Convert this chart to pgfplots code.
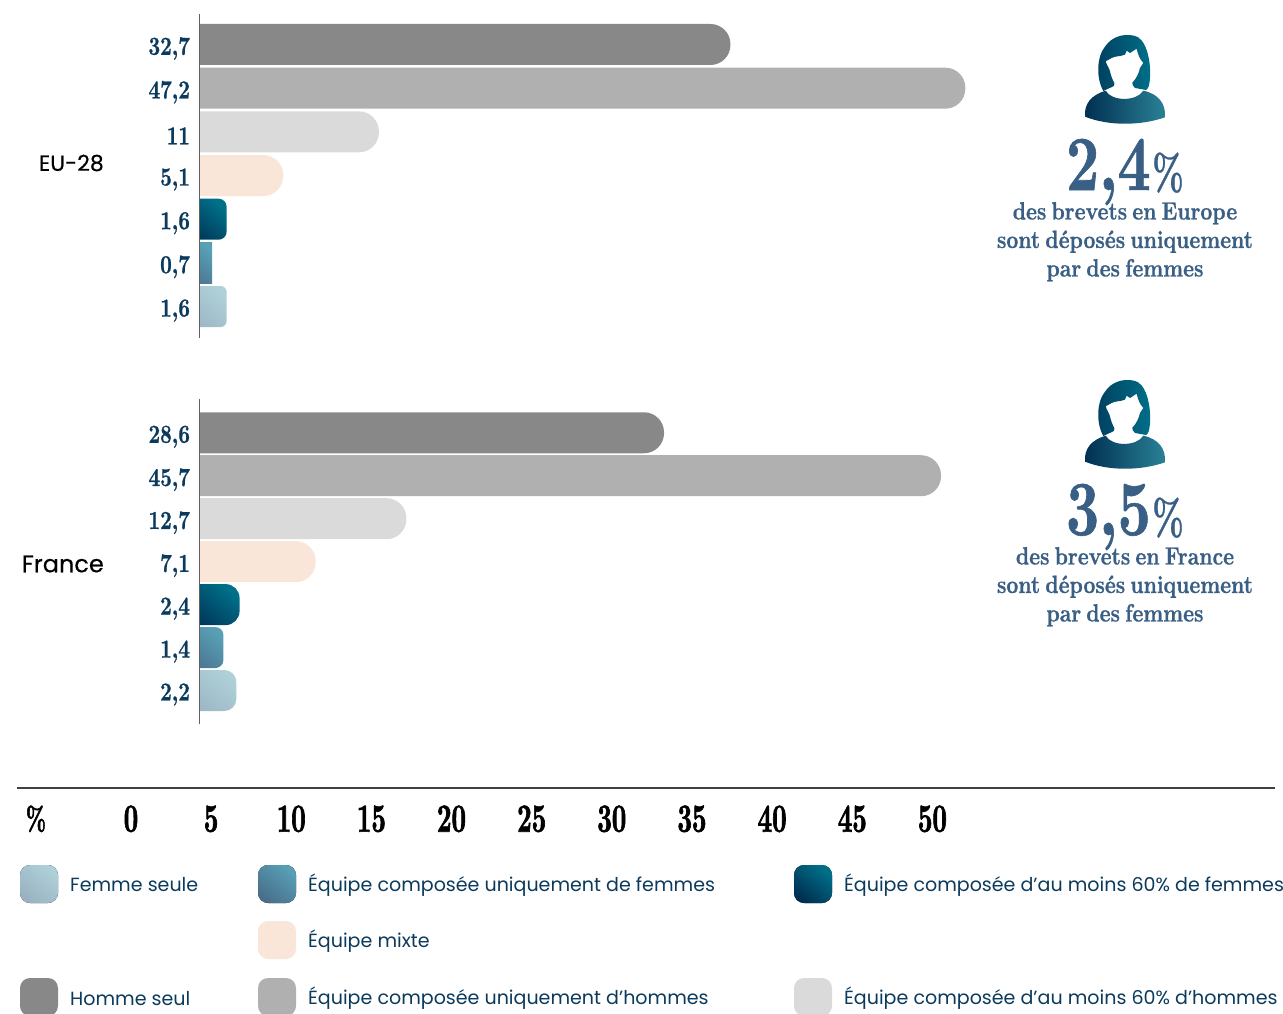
\documentclass[border=0pt]{standalone}
\usepackage{fontspec}
\usepackage{pgfplots}
\pgfplotsset{compat=1.18}
\setmainfont{Poppins}
\newfontfamily\catfont[FakeBold=0.35]{Poppins}
\newfontfamily\valuefont[FakeStretch=0.78,FakeBold=0.8]{lmroman10-bold.otf}
\newfontfamily\tickfont[FakeStretch=0.63,FakeBold=1.6]{lmroman10-bold.otf}
\newfontfamily\bigfont[FakeStretch=0.74,FakeBold=0.8]{lmroman10-bold.otf}
\newfontfamily\pctfont[FakeStretch=0.66,FakeBold=0.5]{lmroman10-bold.otf}
\newfontfamily\notefont[FakeStretch=0.83,FakeBold=0.7,WordSpace=0.65]{lmroman10-bold.otf}
\definecolor{navy}{HTML}{0B3A5C}
\definecolor{slateblue}{HTML}{3A5F85}
\definecolor{greyA}{HTML}{888888}
\definecolor{greyB}{HTML}{B0B0B0}
\definecolor{greyC}{HTML}{DADADA}
\definecolor{peach}{HTML}{F9E6D8}
\definecolor{deepA}{HTML}{002F52}
\definecolor{deepB}{HTML}{007089}
\definecolor{midA}{HTML}{4A6F8C}
\definecolor{midB}{HTML}{57A0B5}
\definecolor{paleA}{HTML}{9AB3C2}
\definecolor{paleB}{HTML}{AED0D8}
\definecolor{iconC}{HTML}{2A8296}
% Horizontal bars: the baseline sits 1.5 units left of the value axis and is clipped away,
% so only the right-hand corners of each bar appear rounded.
\pgfplotsset{
  barpanel/.style={hide axis, scale only axis, width=972pt, xmin=0, xmax=60, y dir=reverse,
    x filter/.expression={x+1.5}, clip=false},
  onebar/.style={xbar, bar shift=0pt, bar width=41pt, draw=none},
  valuepanel/.style={scale only axis, width=972pt, xmin=0, xmax=60, y dir=reverse,
    axis y line*=left, axis x line=none, ytick={0,...,6}, xtick=\empty,
    major tick length=0pt, axis line style={draw=black!62, line width=1.3pt},
    y tick label style={font=\valuefont\fontsize{26}{26}\selectfont, text=navy,
      anchor=east, xshift=-6pt, yshift=-4pt}},
  manalone/.style={onebar, fill=greyA, rounded corners=20pt},
  menonly/.style={onebar, fill=greyB, rounded corners=20pt},
  menmost/.style={onebar, fill=greyC, rounded corners=20pt},
  mixed/.style={onebar, fill=peach, rounded corners=20pt},
  womenmost/.style={onebar, bottom color=deepA, top color=deepB, shading angle=-40},
  womenonly/.style={onebar, bottom color=midA, top color=midB, shading angle=-40},
  womanalone/.style={onebar, bottom color=paleA, top color=paleB, shading angle=-40},
}
% Person pictogram with a horizontal colour ramp
\newcommand{\personicon}[1]{%
  \begin{scope}[shift={(980pt,{-20pt-#1pt})}, x=0.3333pt, y=-0.3333pt]
    \shade[left color=deepA!75!deepB, right color=deepB]
      (370,213) .. controls (348,175) and (350,110) .. (375,80)
      .. controls (395,50) and (430,40) .. (462,47)
      .. controls (497,52) and (514,120) .. (510,175)
      .. controls (508,198) and (504,208) .. (498,210)
      -- (465,204) .. controls (459,198) and (456,194) .. (457,188)
      .. controls (470,175) and (476,160) .. (480,144)
      -- (490,129)
      .. controls (480,118) and (474,105) .. (470,86)
      -- (450,99) -- (440,92) -- (435,104)
      .. controls (420,110) and (405,108) .. (395,114)
      -- (377,124)
      .. controls (380,135) and (388,145) .. (390,154)
      .. controls (393,168) and (398,180) .. (403,189)
      .. controls (404,195) and (402,198) .. (400,199) -- cycle;
    \shade[left color=deepA, middle color=deepB!90!deepA, right color=iconC]
      (315,290) .. controls (312,250) and (335,225) .. (377,212)
      .. controls (395,245) and (470,245) .. (490,212)
      .. controls (535,222) and (558,250) .. (555,292)
      .. controls (480,318) and (385,318) .. (315,290) -- cycle;
  \end{scope}}
\newcommand{\callout}[3]{% y offset, figure, place name
  \personicon{#1}
  \node[anchor=base east, text=slateblue, inner sep=0pt] at (1151pt,{-190pt-#1pt})
    {\bigfont\fontsize{78}{78}\selectfont #2};
  \node[anchor=base east, text=slateblue, inner sep=0pt] at (1184pt,{-190pt-#1pt})
    {\pctfont\fontsize{50}{50}\selectfont\%};
  \foreach \ty/\tx in {219.5/des brevets en #3, 248/sont déposés uniquement, 276.5/par des femmes}
    \node[anchor=base, text=slateblue, inner sep=0pt] at (1125pt,{-\ty pt-#1pt})
      {\notefont\fontsize{25}{25}\selectfont \tx};}
\newcommand{\swatch}[3]{\fill[rounded corners=10pt,#3] (#1pt,-#2pt) rectangle ++(38pt,-38pt);}
\newcommand{\legendtext}[3]{\node[anchor=west, text=navy, inner sep=0pt] at (#1pt,-#2pt)
  {\fontsize{19.05}{20}\selectfont #3};}
\begin{document}
\begin{tikzpicture}
\useasboundingbox (0,0) rectangle (1283pt,-1014pt);

% EU-28 panel
\begin{scope}
\clip (200pt,-14pt) rectangle (1100pt,-338pt);
\begin{axis}[barpanel, at={(176.4pt,-338pt)}, anchor=south west, height=324pt,
  ymin=-0.698, ymax=6.72]
  \addplot[manalone] coordinates {(32.7,0)};
  \addplot[menonly] coordinates {(47.2,1)};
  \addplot[menmost] coordinates {(11,2)};
  \addplot[mixed] coordinates {(5.1,3)};
  \addplot[womenmost, rounded corners=8pt] coordinates {(1.6,4)};
  \addplot[womenonly] coordinates {(0.7,5)};
  \addplot[womanalone, rounded corners=6pt] coordinates {(1.6,6)};
\end{axis}
\end{scope}
\begin{axis}[valuepanel, at={(199.5pt,-338pt)}, anchor=south west, height=324pt,
  ymin=-0.698, ymax=6.72,
  yticklabels={{32,7},{47,2},{11},{5,1},{1,6},{0,7},{1,6}}]
\end{axis}
\node[anchor=east, inner sep=0pt] at (104pt,-163pt) {\catfont\fontsize{22}{22}\selectfont EU-28};

% France panel
\begin{scope}
\clip (200pt,-399pt) rectangle (1100pt,-724pt);
\begin{axis}[barpanel, at={(176.4pt,-724pt)}, anchor=south west, height=325pt,
  ymin=-0.786, ymax=6.78]
  \addplot[manalone] coordinates {(28.6,0)};
  \addplot[menonly] coordinates {(45.7,1)};
  \addplot[menmost] coordinates {(12.7,2)};
  \addplot[mixed] coordinates {(7.1,3)};
  \addplot[womenmost, rounded corners=14pt] coordinates {(2.4,4)};
  \addplot[womenonly, rounded corners=8pt] coordinates {(1.4,5)};
  \addplot[womanalone, rounded corners=12pt] coordinates {(2.2,6)};
\end{axis}
\end{scope}
\begin{axis}[valuepanel, at={(199.5pt,-724pt)}, anchor=south west, height=325pt,
  ymin=-0.786, ymax=6.78,
  yticklabels={{28,6},{45,7},{12,7},{7,1},{2,4},{1,4},{2,2}}]
\end{axis}
\node[anchor=east, inner sep=0pt] at (104pt,-564pt) {\catfont\fontsize{24}{24}\selectfont France};

% Shared value scale
\begin{axis}[scale only axis, at={(17pt,-788pt)}, anchor=south west, width=1258pt, height=1pt,
  xmin=-7.11, xmax=71.37, ymin=0, ymax=1,
  axis x line*=bottom, axis y line=none, ytick=\empty,
  xtick={-5.93,0,5,10,15,20,25,30,35,40,45,50},
  xticklabels={{\fontsize{33}{33}\selectfont\%},0,5,10,15,20,25,30,35,40,45,50},
  major tick length=0pt, axis line style={draw=black!75, line width=1.2pt},
  x tick label style={font=\tickfont\fontsize{40}{40}\selectfont, text=black,
    anchor=north, yshift=-14pt}]
\end{axis}

% Call-outs
\callout{0}{2,4}{Europe}
\callout{345}{3,5}{France}

% Key
\swatch{20}{865}{bottom color=paleA, top color=paleB, shading angle=-40}
\swatch{258}{865}{bottom color=midA, top color=midB, shading angle=-40}
\swatch{794}{865}{bottom color=deepA, top color=deepB, shading angle=-40}
\swatch{258}{921}{fill=peach}
\swatch{20}{978}{fill=greyA}
\swatch{258}{978}{fill=greyB}
\swatch{794}{978}{fill=greyC}
\legendtext{70}{885}{Femme seule}
\legendtext{308}{885}{Équipe composée uniquement de femmes}
\legendtext{844}{885}{Équipe composée d’au moins 60\% de femmes}
\legendtext{308}{941}{Équipe mixte}
\legendtext{70}{998.5}{Homme seul}
\legendtext{308}{998}{Équipe composée uniquement d’hommes}
\legendtext{844}{998}{Équipe composée d’au moins 60\% d’hommes}
\end{tikzpicture}
\end{document}
